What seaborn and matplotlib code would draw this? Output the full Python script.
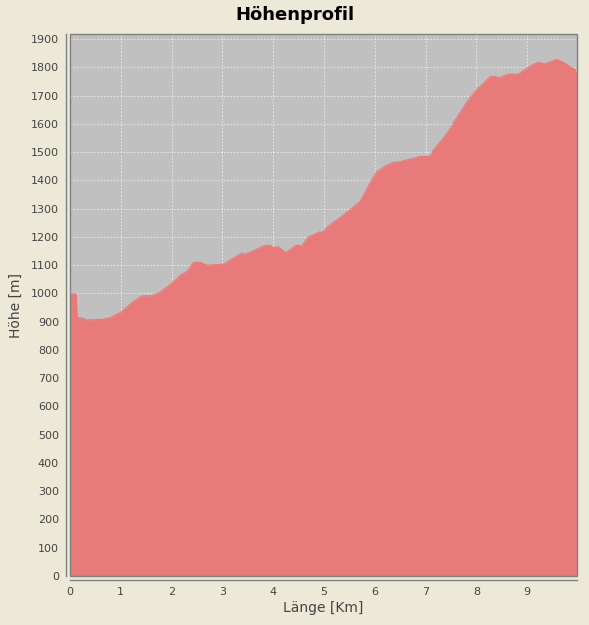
import matplotlib
matplotlib.use("Agg")
import matplotlib.pyplot as plt
import seaborn as sns
import pandas as pd

# Höhenprofil: Distanz in km, Höhe in m
laenge_km = [0.0, 0.12, 0.14, 0.26, 0.31, 0.62, 0.79, 1.02, 1.2, 1.41, 1.61, 1.77,
             2.0, 2.2, 2.3, 2.43, 2.56, 2.69, 3.02, 3.15, 3.38, 3.44, 3.58, 3.81,
             3.94, 4.0, 4.1, 4.25, 4.32, 4.46, 4.56, 4.69, 4.92, 4.95, 5.1, 5.38,
             5.71, 5.94, 6.04, 6.2, 6.37, 6.5, 6.89, 7.09, 7.15, 7.35, 7.51, 7.58,
             7.84, 8.01, 8.15, 8.27, 8.37, 8.46, 8.63, 8.83, 9.06, 9.22, 9.35,
             9.57, 9.71, 9.84, 9.94, 9.98]
hoehe_m = [998, 998, 915, 912, 906, 908, 914, 935, 965, 991, 992, 1004,
           1035, 1068, 1077, 1110, 1110, 1100, 1103, 1118, 1142, 1139, 1148, 1168,
           1170, 1163, 1165, 1144, 1154, 1171, 1168, 1199, 1218, 1214, 1240, 1277,
           1325, 1401, 1431, 1450, 1464, 1466, 1484, 1486, 1507, 1550, 1590, 1613,
           1684, 1722, 1745, 1767, 1767, 1763, 1776, 1776, 1805, 1818, 1812,
           1828, 1818, 1802, 1793, 1767]
x_ticks = list(range(0, 10))
y_ticks = list(range(0, 2000, 100))

df = pd.DataFrame({"Länge": laenge_km, "Höhe": hoehe_m})

sns.set_style("white")
plt.rcParams['font.family'] = ['DejaVu Sans']

bg = "#ECE9D8"
fill_col = "#EC7474"
txt = "#444444"

fig = plt.figure(figsize=(5.89, 6.25), dpi=100, facecolor=bg)
ax = fig.add_axes([70 / 589, 49 / 625, 507 / 589, 542 / 625])
ax.set_facecolor("#C0C0C0")

ax.fill_between(df["Länge"], df["Höhe"], 0, color=fill_col, alpha=0.92, lw=0, zorder=2)
sns.lineplot(data=df, x="Länge", y="Höhe", ax=ax, color=fill_col, alpha=0.92,
             lw=0.8, zorder=3)

ax.set_xlim(0, 9.98)
ax.set_ylim(0, 1918)
ax.set_xticks(x_ticks)
ax.set_yticks(y_ticks)
ax.grid(True, color="white", ls=(0, (2, 2)), lw=0.6, alpha=0.7, zorder=1)
ax.set_axisbelow(True)

for s in ["top", "right"]:
    ax.spines[s].set_visible(False)
for s in ["left", "bottom"]:
    ax.spines[s].set_position(("outward", 3))
    ax.spines[s].set_color("#808080")
    ax.spines[s].set_linewidth(1.0)

# Rahmen um den Plotbereich
ax.add_patch(plt.Rectangle((0, 0), 1, 1, transform=ax.transAxes, fill=False,
                           ec="#808080", lw=1.0, zorder=5, clip_on=False))

ax.tick_params(axis="both", colors="#808080", labelcolor=txt, labelsize=8,
               length=3, width=0.8, direction="out", pad=2)
ax.set_xlabel("Länge [Km]", fontsize=10, color=txt, labelpad=3)
ax.set_ylabel("Höhe [m]", fontsize=10, color=txt, labelpad=6)
fig.suptitle("Höhenprofil", fontsize=13, fontweight="bold", color="black", y=0.99)

fig.savefig("out.png", dpi=100, facecolor=bg)
